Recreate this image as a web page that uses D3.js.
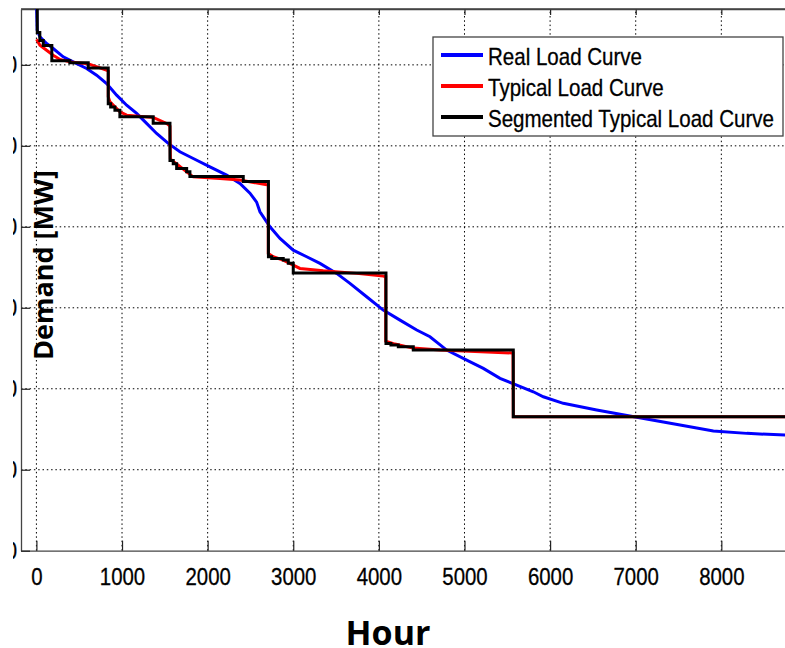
<!DOCTYPE html>
<html>
<head>
<meta charset="utf-8">
<script src="https://cdn.jsdelivr.net/npm/d3@7"></script>
<style>
  body { margin: 0; background: #fff; }
  .vis-load text { font-family: "Liberation Sans", Arial, sans-serif; }
</style>
</head>
<body>
<div class="vis-load"></div>
<script>
// hours / demand values
const xTicks = [0, 1000, 2000, 3000, 4000, 5000, 6000, 7000, 8000];
const yTicks = [200, 300, 400, 500, 600, 700, 800];

// Real Load Curve [hour, MW]
const realLoad = [
  [0, 880], [9, 842.8], [41, 834.6], [119, 826.4], [196, 820.2], [313, 809.9],
  [430, 803.7], [586, 795.6], [703, 787.3], [820, 777], [937, 762.6], [1054, 750.2],
  [1171, 740], [1287, 727.7], [1404, 715.3], [1540, 703], [1676, 692.6], [1832, 684.4],
  [2027, 674.1], [2222, 663.8], [2377, 653.6], [2494, 641.6], [2572, 630.5], [2611, 618.5],
  [2728, 600], [2845, 585.7], [3000, 571.2], [3157, 563], [3312, 554.8], [3507, 542.5],
  [3662, 530.1], [3857, 513.6], [4051, 497.2], [4247, 484.8], [4442, 472.5], [4597, 464.2],
  [4792, 447.8], [5026, 435.4], [5220, 425.2], [5415, 412.8], [5610, 404.6], [5804, 396.3],
  [5921, 390.1], [6154, 382], [6544, 373.7], [7012, 364.7], [7518, 355.2], [7907, 347.8],
  [8297, 344.9], [8760, 342.7]
];

// Typical Load Curve [hour, MW]
const typicalLoad = [
  [2, 831.7], [41, 824.3], [119, 818.1], [196, 812], [275, 806.7], [391, 803.7],
  [602, 801.5], [683, 798.4], [824, 793.4], [839, 792.2], [839, 760.5], [859, 754.3],
  [917, 748.1], [975, 742], [1054, 737.9], [1364, 735.1], [1521, 727.7], [1560, 724.3],
  [1565, 684], [1579, 682.3], [1657, 676.2], [1755, 667.9], [1832, 661.7], [2144, 659.8],
  [2377, 657.7], [2708, 651.5], [2708, 567.2], [2766, 563], [2883, 558.9], [3000, 552.7],
  [3078, 548.6], [3350, 545.7], [3741, 542.5], [4051, 539.1], [4080, 538.3], [4080, 458.9],
  [4188, 455.2], [4398, 450.2], [4714, 447.8], [5567, 444.1], [5570, 365.4], [8760, 365.4]
];

// Segmented Typical Load Curve, step after [hour, MW]
const segmentedLoad = [
  [0, 900], [10, 840], [40, 830], [80, 824], [180, 805], [390, 802.5], [605, 796],
  [839, 752], [867, 748], [917, 744], [975, 736], [1364, 728], [1560, 682], [1598, 678],
  [1638, 672], [1755, 668], [1793, 662], [2416, 656], [2710, 563], [2748, 561],
  [2883, 559], [2942, 555], [3000, 543], [4083, 456], [4141, 454], [4227, 452],
  [4402, 448], [5570, 365.4], [8760, 365.4]
];

const series = [
  { name: "Real Load Curve", color: "#0000ff", data: realLoad, curve: d3.curveLinear },
  { name: "Typical Load Curve", color: "#ff0000", data: typicalLoad, curve: d3.curveLinear },
  { name: "Segmented Typical Load Curve", color: "#000000", data: segmentedLoad, curve: d3.curveStepAfter }
];

const width = 785;
const height = 648;
const margin = { top: 9, left: 21, bottom: 97 };

// squeeze text like the narrow Helvetica of the original
function narrow(sel, k) {
  sel.each(function () {
    const w = this.getComputedTextLength();
    d3.select(this).attr("textLength", w * k).attr("lengthAdjust", "spacingAndGlyphs");
  });
}

const svg = d3
  .select(".vis-load")
  .append("svg")
  .attr("width", width)
  .attr("height", height);

const xScale = d3.scaleLinear().domain([-180, 8760]).range([margin.left, 786.4]);
const yScale = d3.scaleLinear().domain([200, 869]).range([height - margin.bottom - 0.3, margin.top]);

const x0 = xScale.range()[0], x1 = xScale.range()[1];
const y0 = yScale.range()[0], y1 = yScale.range()[1];

const defs = svg.append("defs");
defs.append("clipPath").attr("id", "plotclip")
  .append("rect").attr("x", x0).attr("y", y1).attr("width", x1 - x0).attr("height", y0 - y1);
// the left of the figure is cropped in the original: only the end of the y labels shows
defs.append("clipPath").attr("id", "ylabclip")
  .append("rect").attr("x", 13 - x0).attr("y", -20).attr("width", 8).attr("height", height + 40);

// dotted grid
const grid = svg.append("g").attr("stroke", "#000").attr("stroke-width", 1)
  .attr("stroke-dasharray", "1.5,2.8");
grid.selectAll(".vg").data(xTicks).enter().append("line")
  .attr("x1", (d) => xScale(d)).attr("x2", (d) => xScale(d))
  .attr("y1", y0).attr("y2", y1);
grid.selectAll(".hg").data(yTicks.slice(1)).enter().append("line")
  .attr("x1", x0).attr("x2", x1)
  .attr("y1", (d) => yScale(d)).attr("y2", (d) => yScale(d));

// axes
const xAxis = svg.append("g").attr("transform", `translate(0,${y0})`)
  .call(d3.axisBottom(xScale).tickValues(xTicks).tickFormat(d3.format("d"))
    .tickSizeInner(-10).tickSizeOuter(0).tickPadding(17));
const xAxisTop = svg.append("g").attr("transform", `translate(0,${y1})`)
  .call(d3.axisTop(xScale).tickValues(xTicks).tickSizeInner(-6).tickSizeOuter(0).tickFormat(""));
const yLabels = svg.append("g").attr("transform", `translate(${x0},0)`)
  .attr("clip-path", "url(#ylabclip)")
  .call(d3.axisLeft(yScale).tickValues(yTicks).tickFormat(d3.format("d")).tickSize(0).tickPadding(4));
yLabels.select(".domain").remove();
const yAxis = svg.append("g").attr("transform", `translate(${x0},0)`)
  .call(d3.axisLeft(yScale).tickValues(yTicks).tickSizeInner(-9).tickSizeOuter(0).tickFormat(""));

[xAxis, xAxisTop, yAxis].forEach((a) => {
  a.select(".domain").attr("stroke", "#444").attr("stroke-width", 1.3);
  a.selectAll(".tick line").attr("stroke", "#222").attr("stroke-width", 1.2);
});
[xAxis, yLabels].forEach((a) => {
  a.attr("font-family", null).attr("font-size", null);
  a.selectAll("text").attr("font-size", 24).attr("fill", "#000")
    .attr("stroke", "#000").attr("stroke-width", 0.3);
});
yLabels.selectAll("text").attr("x", 17 - x0);
narrow(xAxis.selectAll("text"), 0.85);
narrow(yLabels.selectAll("text"), 0.85);

// top border
svg.append("line").attr("x1", x0).attr("x2", x1).attr("y1", y1).attr("y2", y1)
  .attr("stroke", "#444").attr("stroke-width", 1.3);

// curves
const curves = svg.append("g").attr("clip-path", "url(#plotclip)");
series.forEach((s) => {
  const line = d3.line()
    .x((d) => xScale(d[0]))
    .y((d) => yScale(d[1]))
    .curve(s.curve);
  curves.append("path")
    .datum(s.data)
    .attr("fill", "none")
    .attr("stroke", s.color)
    .attr("stroke-width", 3)
    .attr("stroke-linejoin", "miter")
    .attr("d", line);
});

// legend
const legend = svg.append("g").attr("transform", "translate(433,37)");
legend.append("rect")
  .attr("width", 350).attr("height", 99)
  .attr("fill", "#fff").attr("stroke", "#444").attr("stroke-width", 1.3);
const items = legend.selectAll(".item").data(series).enter().append("g")
  .attr("transform", (d, i) => `translate(0,${18 + i * 31})`);
items.append("line")
  .attr("x1", 8).attr("x2", 50).attr("y1", 0).attr("y2", 0)
  .attr("stroke", (d) => d.color).attr("stroke-width", 4);
const legendText = items.append("text")
  .attr("x", 55).attr("y", 10)
  .attr("font-size", 24)
  .attr("stroke", "#000").attr("stroke-width", 0.3)
  .text((d) => d.name);
narrow(legendText, 0.855);

// axis titles
svg.append("text")
  .attr("x", 388).attr("y", 645)
  .attr("text-anchor", "middle")
  .style("font-family", "'Open Sans', sans-serif")
  .attr("font-weight", "bold")
  .attr("font-size", 34)
  .text("Hour");
svg.append("text")
  .attr("transform", "translate(53,265) rotate(-90)")
  .attr("text-anchor", "middle")
  .style("font-family", "'Open Sans', sans-serif")
  .attr("font-weight", "bold")
  .attr("font-size", 27)
  .text("Demand [MW]");
</script>
</body>
</html>
